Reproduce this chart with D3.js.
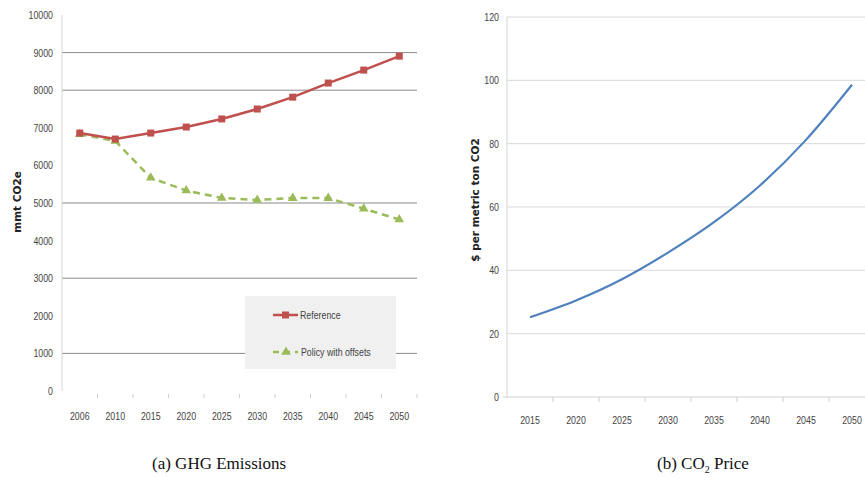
<!DOCTYPE html>
<html><head><meta charset="utf-8">
<script src="https://cdn.jsdelivr.net/npm/d3@7"></script>
<style>
body{margin:0;background:#fff;}
.ax{font-family:"Liberation Sans","Arial",sans-serif;font-size:11px;fill:#444;}
.cap{font-family:"Liberation Serif","DejaVu Serif",serif;font-size:17px;fill:#111;}
.ttl{font-family:"DejaVu Sans","Open Sans",sans-serif;font-weight:bold;fill:#222;}
</style></head>
<body>
<svg id="c" width="865" height="478"></svg>
<script>
// ---- data ----
const yearsA = ["2006","2010","2015","2020","2025","2030","2035","2040","2045","2050"];
const reference = [6860,6700,6860,7020,7235,7500,7815,8190,8535,8905];
const policy = [6830,6650,5670,5330,5135,5080,5130,5130,4850,4560];
const ticksA = [0,1000,2000,3000,4000,5000,6000,7000,8000,9000,10000];
const gridA = [1000,3000,5000,8000,9000];
const yearsB = ["2015","2020","2025","2030","2035","2040","2045","2050"];
const price = [25.2,30.5,37.2,45.6,55.2,66.8,81.2,98.6];
const ticksB = [0,20,40,60,80,100,120];

const svg = d3.select("#c");
const SX = 0.8;
function narrow(sel, fx, fy){
  return sel.attr("transform",(d,i)=>`translate(${fx(d,i)},${fy(d,i)}) scale(${SX},1)`);
}

// ---- chart A ----
const xA = d3.scaleBand().domain(yearsA).range([62,417]);
const yA = d3.scaleLinear().domain([0,10000]).range([391,15]);
const gA = svg.append("g");
gA.selectAll(".grid").data(gridA).enter().append("line")
  .attr("x1",62).attr("x2",417).attr("y1",d=>yA(d)).attr("y2",d=>yA(d))
  .attr("stroke","#8a8a8a").attr("stroke-width",1);
gA.append("line").attr("x1",62).attr("x2",62).attr("y1",15).attr("y2",391).attr("stroke","#d4d4d4");
narrow(gA.selectAll(".yt").data(ticksA).enter().append("text").attr("class","ax")
  .attr("text-anchor","end").text(d=>d), d=>53, d=>yA(d)+4);
const bndA = yearsA.map(d=>xA(d)).concat([417]);
gA.selectAll(".tk").data(bndA.slice(1)).enter().append("line")
  .attr("x1",d=>d).attr("x2",d=>d).attr("y1",394).attr("y2",398).attr("stroke","#cfcfcf");
narrow(gA.selectAll(".xt").data(yearsA).enter().append("text").attr("class","ax")
  .attr("text-anchor","middle").text(d=>d), d=>xA(d)+xA.bandwidth()/2, d=>420);
gA.append("text").attr("class","ttl").attr("transform","translate(21,202) rotate(-90)")
  .attr("text-anchor","middle").style("font-size","10.5px").text("mmt CO2e");

const cx = d=>xA(d)+xA.bandwidth()/2;
const lineA = d3.line().x((d,i)=>cx(yearsA[i])).y(d=>yA(d));
gA.append("path").datum(policy).attr("d",lineA).attr("fill","none")
  .attr("stroke","#9bbb59").attr("stroke-width",2.5).attr("stroke-dasharray","7,5");
gA.append("path").datum(reference).attr("d",lineA).attr("fill","none")
  .attr("stroke","#c0504d").attr("stroke-width",2.5);
const tri = d3.symbol().type(d3.symbolTriangle).size(40);
gA.selectAll(".pm").data(policy).enter().append("path").attr("d",tri)
  .attr("transform",(d,i)=>`translate(${cx(yearsA[i])},${yA(d)})`).attr("fill","#9bbb59");
gA.selectAll(".rm").data(reference).enter().append("rect")
  .attr("x",(d,i)=>cx(yearsA[i])-3.5).attr("y",d=>yA(d)-3.5).attr("width",7).attr("height",7).attr("fill","#c0504d");

// legend
const lg = gA.append("g");
lg.append("rect").attr("x",245).attr("y",296).attr("width",151).attr("height",73).attr("fill","#f0f0f0");
lg.append("line").attr("x1",273).attr("x2",298).attr("y1",315).attr("y2",315).attr("stroke","#c0504d").attr("stroke-width",2.5);
lg.append("rect").attr("x",282).attr("y",311.5).attr("width",7).attr("height",7).attr("fill","#c0504d");
lg.append("text").attr("class","ax").attr("transform",`translate(300,319) scale(${SX},1)`).text("Reference");
lg.append("line").attr("x1",273).attr("x2",298).attr("y1",352).attr("y2",352).attr("stroke","#9bbb59").attr("stroke-width",2.5).attr("stroke-dasharray","6,5");
lg.append("path").attr("d",tri).attr("transform","translate(286,352)").attr("fill","#9bbb59");
lg.append("text").attr("class","ax").attr("transform",`translate(301,356) scale(${SX},1)`).text("Policy with offsets");

// ---- chart B ----
const xB = d3.scaleBand().domain(yearsB).range([507,875]);
const yB = d3.scaleLinear().domain([0,120]).range([397,17]);
const gB = svg.append("g");
gB.selectAll(".grid").data(ticksB.slice(1)).enter().append("line")
  .attr("x1",507).attr("x2",865).attr("y1",d=>yB(d)).attr("y2",d=>yB(d))
  .attr("stroke","#d9d9d9").attr("stroke-width",1);
gB.append("line").attr("x1",507).attr("x2",507).attr("y1",17).attr("y2",397).attr("stroke","#d4d4d4");
gB.append("line").attr("x1",503).attr("x2",865).attr("y1",397).attr("y2",397).attr("stroke","#d0d0d0");
narrow(gB.selectAll(".yt").data(ticksB).enter().append("text").attr("class","ax")
  .attr("text-anchor","end").text(d=>d), d=>499, d=>yB(d)+4);
gB.selectAll(".tk").data(yearsB.slice(1)).enter().append("line")
  .attr("x1",d=>xB(d)).attr("x2",d=>xB(d)).attr("y1",397).attr("y2",402).attr("stroke","#d0d0d0");
narrow(gB.selectAll(".xt").data(yearsB).enter().append("text").attr("class","ax")
  .attr("text-anchor","middle").text(d=>d), d=>xB(d)+xB.bandwidth()/2, d=>424);
gB.append("text").attr("class","ttl").attr("transform","translate(479,200) rotate(-90)")
  .attr("text-anchor","middle").style("font-size","10.5px").text("$ per metric ton CO2");
const lineB = d3.line().x((d,i)=>xB(yearsB[i])+xB.bandwidth()/2).y(d=>yB(d)).curve(d3.curveMonotoneX);
gB.append("path").datum(price).attr("d",lineB).attr("fill","none")
  .attr("stroke","#4f81bd").attr("stroke-width",2.2);

// ---- captions ----
svg.append("text").attr("class","cap").attr("x",152).attr("y",469).text("(a) GHG Emissions");
const cb = svg.append("text").attr("class","cap").attr("x",657).attr("y",469);
cb.append("tspan").text("(b) CO");
cb.append("tspan").attr("dy",4).style("font-size","10px").text("2");
cb.append("tspan").attr("dy",-4).text(" Price");
</script>
</body></html>
